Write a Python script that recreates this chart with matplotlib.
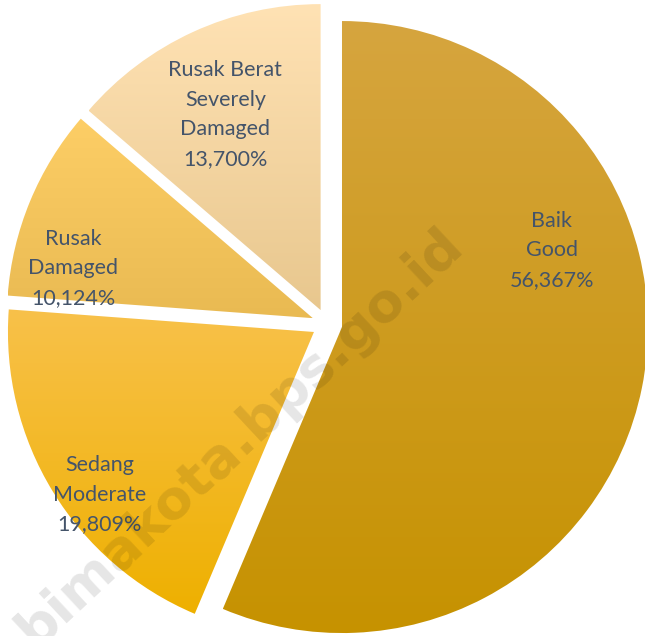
import numpy as np
import matplotlib.pyplot as plt
from matplotlib.colors import to_rgb

# data
kondisi = ["Baik", "Sedang", "Rusak", "Rusak Berat"]
condition = ["Good", "Moderate", "Damaged", "Severely\nDamaged"]
persen = [56.367, 19.809, 10.124, 13.700]

# gradient colours per slice (top, bottom)
warna_atas = ["#D6A53F", "#F8C14A", "#FDCE66", "#FFE2B4"]
warna_bawah = ["#C69200", "#EEB000", "#E9BA52", "#E8C78E"]

# label positions relative to pie centre, in radius units
label_pos = [(0.734, 0.241), (-0.744, -0.558), (-0.830, 0.182), (-0.332, 0.685)]

W, H = 645, 636
cx, cy, R = 327, H - 324, 306

fig = plt.figure(figsize=(W / 100, H / 100), dpi=100)
ax = fig.add_axes([0, 0, 1, 1])

wedges, _ = ax.pie(persen, startangle=90, counterclock=False, radius=R,
                   center=(cx, cy), explode=[0.05 * R] * len(persen),
                   wedgeprops=dict(linewidth=0))

for w, c0, c1 in zip(wedges, warna_atas, warna_bawah):
    v = w.get_path().vertices
    x0, x1 = v[:, 0].min(), v[:, 0].max()
    y0, y1 = v[:, 1].min(), v[:, 1].max()
    t = np.linspace(0, 1, 256)[:, None, None]
    img = (1 - t) * np.array(to_rgb(c0)) + t * np.array(to_rgb(c1))
    im = ax.imshow(img, extent=(x0, x1, y0, y1), origin="upper",
                   aspect="auto", interpolation="bilinear", zorder=1)
    im.set_clip_path(w)
    w.set_facecolor("none")

for (dx, dy), k, c, p in zip(label_pos, kondisi, condition, persen):
    teks = f"{k}\n{c}\n{p:.3f}%".replace(".", ",")
    ax.text(cx + dx * R, cy + dy * R, teks, ha="center", va="center",
            fontsize=15.5, family="Lato", color="#44546A", linespacing=1.6,
            zorder=3)

# watermark
ax.text(240, H - 437, "bimakota.bps.go.id", rotation=43, ha="center",
        va="center", fontsize=39, fontweight="bold", family="DejaVu Sans",
        color="black", alpha=0.1, zorder=4)

ax.set_xlim(0, W)
ax.set_ylim(0, H)
ax.axis("off")

fig.savefig("out.png", dpi=100)
